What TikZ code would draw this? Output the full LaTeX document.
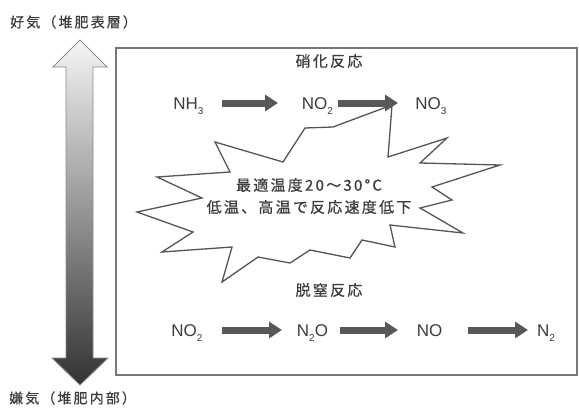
\documentclass[tikz,border=0pt]{standalone}
\usepackage{fontspec}
\setmainfont{Liberation Sans}
\newfontfamily\jp[LetterSpace=15,FakeBold=0.6]{Noto Sans CJK JP}
\usetikzlibrary{arrows.meta}
\definecolor{txt}{RGB}{60,60,60}
\definecolor{framec}{RGB}{120,120,120}
\definecolor{blkc}{RGB}{88,88,88}
\definecolor{burstc}{RGB}{85,85,85}
\newcommand\subs[1]{\raisebox{-0.3em}{\fontsize{10}{10}\selectfont #1}}
\begin{document}
\begin{tikzpicture}[x=1pt,y=-1pt,
  chem/.style={inner sep=0pt, text height=12pt, text depth=0pt, font=\fontsize{17}{20}\selectfont, text=txt},
  jlabel/.style={inner sep=0pt, font=\jp\fontsize{15}{22}\selectfont, text=txt},
  slabel/.style={inner sep=0pt, anchor=west, font=\jp\fontsize{14}{18}\selectfont, text=txt},
  blkarrow/.style={draw=blkc, line width=7pt, -{Triangle[length=13pt,width=16pt]}}]
\useasboundingbox[fill=white] (0,0) rectangle (579,408);
% vertical gradient double arrow
\shade[top color=black!4, middle color=black!35, bottom color=black!80, draw=black!45, line width=0.8pt]
  (80,40) -- (107,67) -- (93,67) -- (93,358) -- (108,358) -- (80,385) -- (52,358) -- (66,358) -- (66,67) -- (53,67) -- cycle;
% frame
\draw[framec, line width=2pt] (116,48) rectangle (577,375);
% side labels
\node[slabel] (aer) at (10,22) {好気（堆肥表層）};
\node[slabel] (ana) at (9,398) {嫌気（堆肥内部）};
% burst
\draw[burstc, fill=white, line width=1.3pt, line join=miter]
  (392,105) -- (388,157) -- (447,138) -- (420,163) -- (500,165) -- (432,187) -- (452,200)
  -- (420,208) -- (463,233) -- (390,225) -- (395,247) -- (362,240) -- (350,258) -- (310,250)
  -- (290,263) -- (258,257) -- (222,282) -- (232,247) -- (162,252) -- (193,232) -- (137,212)
  -- (202,198) -- (157,177) -- (230,172) -- (215,142) -- (283,162) -- (305,128) -- (333,127) -- cycle;
\node[jlabel, align=center] (temp) at (309,196) {最適温度20～30°C\\低温、高温で反応速度低下};
% section titles
\node[jlabel] (nit) at (329,61) {硝化反応};
\node[jlabel] (den) at (329,290) {脱窒反応};
% top row
\node[chem] (nh3) at (188.5,103) {NH\subs{3}};
\node[chem] (no2a) at (317.5,103) {NO\subs{2}};
\node[chem] (no3) at (431,103) {NO\subs{3}};
\draw[blkarrow, shorten <=33.5pt, shorten >=39.5pt] (nh3.center) -- (no2a.center);
\draw[blkarrow, shorten <=20.5pt, shorten >=33pt] (no2a.center) -- (no3.center);
% bottom row
\node[chem] (no2b) at (187,330) {NO\subs{2}};
\node[chem] (n2o) at (312.5,330) {N\subs{2}O};
\node[chem] (no) at (429.5,330) {NO};
\node[chem] (n2) at (546,330) {N\subs{2}};
\draw[blkarrow, shorten <=35pt, shorten >=30.5pt] (no2b.center) -- (n2o.center);
\draw[blkarrow, shorten <=27.5pt, shorten >=31.5pt] (n2o.center) -- (no.center);
\draw[blkarrow, shorten <=38.5pt, shorten >=18pt] (no.center) -- (n2.center);
\end{tikzpicture}
\end{document}
